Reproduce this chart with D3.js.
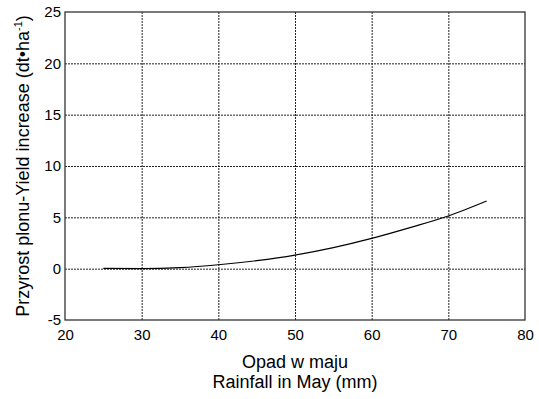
<!DOCTYPE html>
<html>
<head>
<meta charset="utf-8">
<script src="https://cdn.jsdelivr.net/npm/d3@7"></script>
<style>
    body { margin: 0; background: #fff; }
    text { font-family: "Liberation Sans", Arial, Helvetica, sans-serif; fill: #000; }
    .axis path, .axis line { stroke: none; }
    .grid line { stroke: #222; stroke-width: 1; stroke-dasharray: 2,1; }
    .grid path { stroke: none; }
</style>
</head>
<body>
<div id="svg_container"></div>
<script>
// rainfall in May (mm) and yield increase
var rainfall = [25, 30, 35, 40, 45, 50, 55, 60, 65, 70, 75];
var yieldIncrease = [0.03, 0.0, 0.1, 0.38, 0.78, 1.32, 2.05, 2.95, 4.0, 5.13, 6.58];

var xTicks = [20, 30, 40, 50, 60, 70, 80];
var yTicks = [-5, 0, 5, 10, 15, 20, 25];

var xTitle = ["Opad w maju", "Rainfall in May (mm)"];
var yTitle = "Przyrost plonu-Yield increase (dt\u2022ha";

var width = 539, height = 399;
var margin = {top: 12, right: 14, bottom: 79, left: 65};
var graphWidth = width - margin.left - margin.right;
var graphHeight = height - margin.top - margin.bottom;

var svg = d3.select("#svg_container")
        .append("svg")
        .attr("width", width)
        .attr("height", height);

var g = svg.append("g")
        .attr("transform", "translate(" + margin.left + "," + margin.top + ")");

var x = d3.scaleLinear().domain([20, 80]).range([0, graphWidth]);
var y = d3.scaleLinear().domain([-5, 25]).range([graphHeight, 0]);

// plain hyphen for negatives, like the original
var plain = function (d) { return String(d); };

// grid
g.append("g")
        .attr("class", "grid")
        .attr("transform", "translate(0," + graphHeight + ")")
        .call(d3.axisBottom(x).tickValues(xTicks.slice(1, -1)).tickSize(-graphHeight).tickFormat(""));
g.append("g")
        .attr("class", "grid")
        .call(d3.axisLeft(y).tickValues(yTicks.slice(1, -1)).tickSize(-graphWidth).tickFormat(""));

// tick labels
g.append("g")
        .attr("class", "x axis")
        .attr("transform", "translate(0," + graphHeight + ")")
        .call(d3.axisBottom(x).tickValues(xTicks).tickFormat(plain).tickSize(0).tickPadding(9))
        .selectAll("text")
        .style("font-size", "15px");
g.append("g")
        .attr("class", "y axis")
        .call(d3.axisLeft(y).tickValues(yTicks).tickFormat(plain).tickSize(0).tickPadding(4))
        .selectAll("text")
        .style("font-size", "15px");

// frame
g.append("rect")
        .attr("x", 0)
        .attr("y", 0)
        .attr("width", graphWidth)
        .attr("height", graphHeight)
        .attr("fill", "none")
        .attr("stroke", "#333")
        .attr("stroke-width", 1.3);

// curve
var pts = rainfall.map(function (d, i) { return [d, yieldIncrease[i]]; });
g.append("path")
        .datum(pts)
        .attr("fill", "none")
        .attr("stroke", "#000")
        .attr("stroke-width", 1.1)
        .attr("d", d3.line()
                .x(function (d) { return x(d[0]); })
                .y(function (d) { return y(d[1]); })
                .curve(d3.curveMonotoneX));

// axis titles
svg.append("text")
        .attr("text-anchor", "middle")
        .attr("x", margin.left + graphWidth / 2)
        .attr("y", 368)
        .style("font-size", "18px")
        .text(xTitle[0]);
svg.append("text")
        .attr("text-anchor", "middle")
        .attr("x", margin.left + graphWidth / 2)
        .attr("y", 388)
        .style("font-size", "18px")
        .text(xTitle[1]);

var yt = svg.append("text")
        .attr("text-anchor", "middle")
        .attr("transform", "translate(29," + (margin.top + graphHeight / 2) + ")rotate(-90)")
        .style("font-size", "18px")
        .text(yTitle);
yt.append("tspan")
        .attr("dy", -7)
        .style("font-size", "11px")
        .text("-1");
yt.append("tspan")
        .attr("dy", 7)
        .text(")");
</script>
</body>
</html>
